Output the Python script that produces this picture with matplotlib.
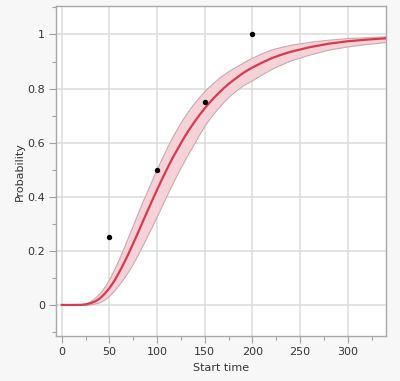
import matplotlib
matplotlib.use("Agg")
import matplotlib.pyplot as plt
from matplotlib.ticker import MultipleLocator, FuncFormatter

# Observed data points
obs_x = [50, 100, 150, 200]
obs_y = [0.25, 0.50, 0.75, 1.00]

# Fitted curve with confidence band
fit_x = [0, 10, 20, 25, 30, 35, 40, 45, 50, 55, 60, 65, 70, 75, 80, 85, 90, 95,
         100, 105, 110, 115, 120, 125, 130, 135, 140, 145, 150, 155, 160, 165,
         170, 175, 180, 185, 190, 195, 200, 210, 220, 230, 240, 260, 280, 300,
         320, 340]
fit_y = [0.000, 0.000, 0.0004, 0.0019, 0.006, 0.0128, 0.024, 0.041, 0.062, 0.088,
         0.119, 0.153, 0.189, 0.228, 0.267, 0.308, 0.348, 0.387,
         0.426, 0.464, 0.500, 0.535, 0.567, 0.598, 0.628, 0.655, 0.681, 0.705,
         0.727, 0.748, 0.767, 0.785, 0.802, 0.817, 0.831, 0.844, 0.857, 0.868,
         0.878, 0.896, 0.912, 0.925, 0.936, 0.953, 0.966, 0.975, 0.981, 0.986]
fit_lo = [0.000, 0.000, 0.000, 0.000, 0.002, 0.005, 0.010, 0.020, 0.035, 0.053,
          0.075, 0.099, 0.125, 0.155, 0.188, 0.222, 0.258, 0.293,
          0.330, 0.367, 0.405, 0.441, 0.477, 0.510, 0.543, 0.574, 0.604, 0.635,
          0.665, 0.689, 0.712, 0.732, 0.752, 0.769, 0.785, 0.799, 0.812, 0.822,
          0.832, 0.853, 0.873, 0.889, 0.904, 0.926, 0.944, 0.956, 0.965, 0.972]
fit_hi = [0.000, 0.000, 0.002, 0.006, 0.014, 0.027, 0.045, 0.068, 0.097, 0.132,
          0.170, 0.212, 0.255, 0.298, 0.342, 0.385, 0.425, 0.466,
          0.505, 0.543, 0.580, 0.615, 0.647, 0.677, 0.704, 0.729, 0.752, 0.773,
          0.792, 0.809, 0.825, 0.840, 0.853, 0.865, 0.876, 0.886, 0.896, 0.906,
          0.915, 0.931, 0.945, 0.954, 0.962, 0.973, 0.981, 0.987, 0.990, 0.993]

x_ticks = [0, 50, 100, 150, 200, 250, 300]
y_ticks = [0, 0.2, 0.4, 0.6, 0.8, 1.0]

fig = plt.figure(figsize=(4.0, 3.81), dpi=100, facecolor="#f7f7f7")
ax = fig.add_axes([0.14, 0.118, 0.825, 0.866])
ax.set_facecolor("white")

ax.fill_between(fit_x, fit_lo, fit_hi, facecolor="#f5d2d7", edgecolor="#c9a9ae",
                linewidth=0.8, zorder=2)
ax.plot(fit_x, fit_y, color="#d63a4f", linewidth=1.6, zorder=3)
ax.scatter(obs_x, obs_y, s=15, color="black", zorder=4, linewidths=0)

ax.set_xlim(-6, 340)
ax.set_ylim(-0.115, 1.105)
ax.set_xticks(x_ticks)
ax.set_yticks(y_ticks)
ax.xaxis.set_minor_locator(MultipleLocator(25))
ax.yaxis.set_minor_locator(MultipleLocator(0.1))

def fmt(v, pos):
    s = ("%.1f" % v).rstrip("0").rstrip(".")
    return s
ax.yaxis.set_major_formatter(FuncFormatter(fmt))

ax.grid(True, which="major", color="#dedede", linewidth=1.2, zorder=0)
ax.set_axisbelow(True)

for sp in ax.spines.values():
    sp.set_color("#a8a8a8")
    sp.set_linewidth(1.0)

ax.tick_params(which="major", length=5, width=0.8, color="#a0a0a0",
               labelsize=8, labelcolor="#333333", pad=3)
ax.tick_params(which="minor", length=3, width=0.8, color="#a0a0a0")

ax.set_xlabel("Start time", fontsize=8, color="#333333", labelpad=4)
ax.set_ylabel("Probability", fontsize=8, color="#333333", labelpad=1.5)

fig.savefig("out.png", dpi=100, facecolor=fig.get_facecolor())
